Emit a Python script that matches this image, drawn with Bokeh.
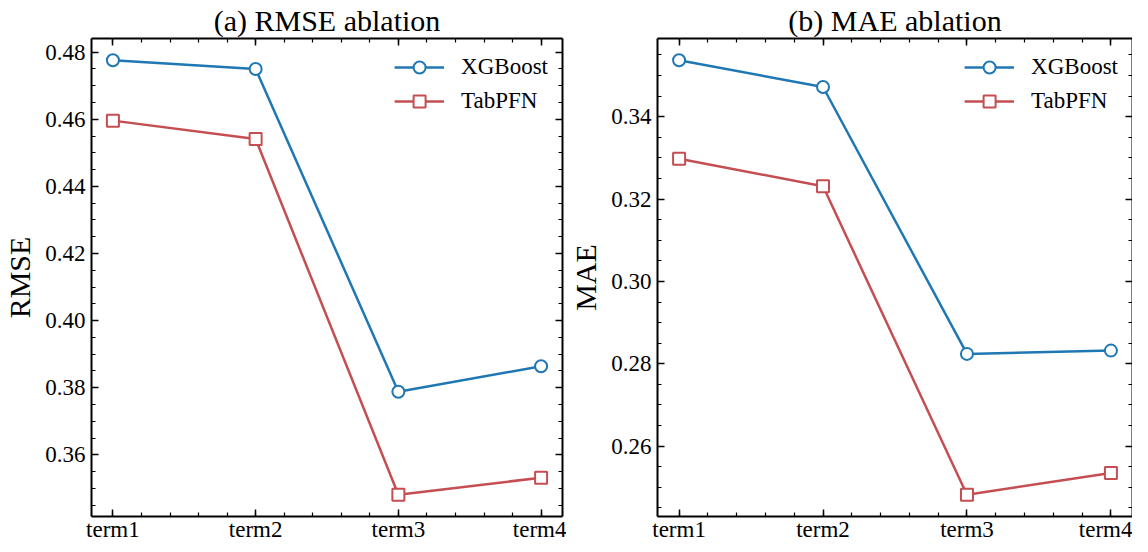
from bokeh.plotting import figure
from bokeh.models import (LinearAxis, FixedTicker, SingleIntervalTicker, Range1d,
                          Legend, LegendItem, NumeralTickFormatter, CustomJSTickFormatter)
from bokeh.layouts import row
from bokeh.embed import file_html
from bokeh.resources import INLINE

terms = ["term1", "term2", "term3", "term4"]
rmse_xgb = [0.4776, 0.4750, 0.3788, 0.3864]
rmse_tab = [0.4596, 0.4541, 0.3481, 0.3532]
mae_xgb = [0.3537, 0.3472, 0.2824, 0.2832]
mae_tab = [0.3298, 0.3231, 0.2482, 0.2535]
series_names = ["XGBoost", "TabPFN"]

FONT = "Liberation Serif"
BLUE = "#1f77b4"
RED = "#c44e52"


def make_panel(title, ylabel, xgb, tab, border_left, border_right):
    xs = list(range(len(terms)))
    lo = min(xgb + tab)
    hi = max(xgb + tab)
    pad = (hi - lo) * 0.05
    n = len(terms) - 1
    p = figure(width=566, height=544, output_backend="svg", toolbar_location=None,
               x_range=Range1d(-0.05 * n, n + 0.05 * n),
               y_range=Range1d(lo - pad, hi + pad),
               min_border_left=border_left, min_border_right=border_right,
               min_border_top=0, min_border_bottom=0)
    p.title.text = title
    p.title.text_font = FONT
    p.title.text_font_size = "30px"
    p.title.text_font_style = "normal"
    p.title.text_color = "black"
    p.title.align = "center"
    p.title.offset = 0
    p.title.standoff = 3
    p.grid.visible = False
    p.outline_line_color = None
    p.background_fill_color = "white"
    p.border_fill_color = "white"

    xt = FixedTicker(ticks=xs, minor_ticks=[i * 0.2 for i in range(-1, 5 * n + 2)])
    yt = SingleIntervalTicker(interval=0.02, num_minor_ticks=4)

    bottom = p.below[0]
    left = p.left[0]
    bottom.ticker = xt
    bottom.major_label_overrides = {i: t for i, t in enumerate(terms)}
    left.ticker = yt
    left.formatter = NumeralTickFormatter(format="0.00")
    left.axis_label = ylabel
    left.axis_label_text_font = FONT
    left.axis_label_text_font_size = "30px"
    left.axis_label_text_font_style = "normal"
    left.axis_label_text_color = "black"
    left.axis_label_standoff = 6

    blank = CustomJSTickFormatter(code="return ''")
    right = LinearAxis(ticker=yt, formatter=blank)
    above = LinearAxis(ticker=xt, formatter=blank)
    p.add_layout(right, "right")
    p.add_layout(above, "above")

    for ax in [bottom, left, right, above]:
        ax.axis_line_width = 2
        ax.axis_line_color = "black"
        ax.major_tick_in = 7
        ax.major_tick_out = 0
        ax.minor_tick_in = 4
        ax.minor_tick_out = 0
        ax.major_tick_line_width = 1.5
        ax.minor_tick_line_width = 1.2
        ax.major_tick_line_color = "black"
        ax.minor_tick_line_color = "black"
        ax.major_label_text_font = FONT
        ax.major_label_text_font_size = "23px"
        ax.major_label_text_color = "black"
        ax.major_label_standoff = 6
    bottom.major_label_standoff = 0
    bottom.major_label_text_line_height = 0.85
    for ax in [right, above]:
        ax.major_label_text_font_size = "1px"
        ax.major_label_standoff = 0

    items = []
    for vals, color, marker, name in [(xgb, BLUE, "circle", series_names[0]),
                                      (tab, RED, "square", series_names[1])]:
        l = p.line(xs, vals, line_color=color, line_width=2.5)
        s = p.scatter(xs, vals, marker=marker, size=12, fill_color="white",
                      line_color=color, line_width=2)
        items.append(LegendItem(label=name, renderers=[l, s]))

    leg = Legend(items=items, location="top_right")
    leg.border_line_color = None
    leg.background_fill_alpha = 0
    leg.label_text_font = FONT
    leg.label_text_font_size = "23px"
    leg.label_text_color = "black"
    leg.glyph_width = 50
    leg.glyph_height = 30
    leg.label_standoff = 17
    leg.spacing = 4
    leg.margin = 14
    leg.padding = 2
    p.add_layout(leg)
    return p


p1 = make_panel("(a) RMSE ablation", "RMSE", rmse_xgb, rmse_tab, 85, 4)
p2 = make_panel("(b) MAE ablation", "MAE", mae_xgb, mae_tab, 89, 0)
layout = row(p1, p2, styles={"margin-bottom": "-8px"})

open("out.html", "w").write(file_html(layout, INLINE))
